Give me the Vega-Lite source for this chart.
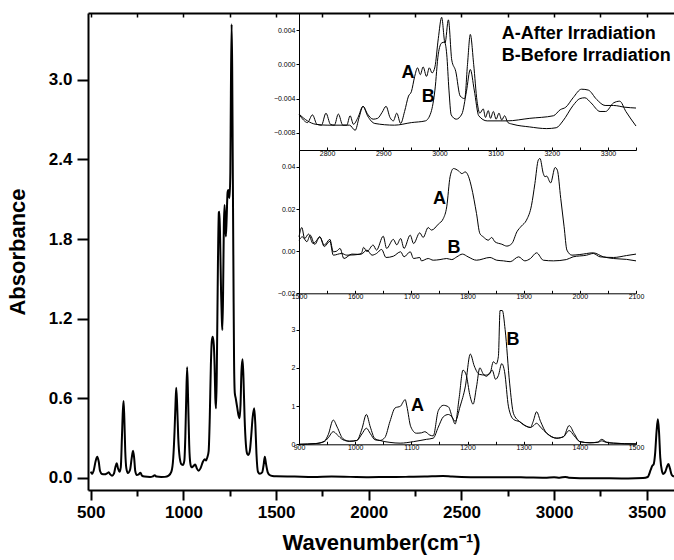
{
"$schema":"https://vega.github.io/schema/vega-lite/v6.json",
"width":586,"height":477,
"autosize":{"type":"none"},
"padding":{"left":88,"top":13,"right":0,"bottom":70},
"background":"white",
"config":{"view":{"stroke":null},"font":"Liberation Sans","axis":{"grid":false,"domainColor":"black","tickColor":"black","labelColor":"black","titleColor":"black","labelFlush":false,"labelOverlap":false}},
"datasets":{
"main":[
{"wn":500,"a":0.045},{"wn":507,"a":0.028},{"wn":515,"a":0.05},{"wn":527,"a":0.13},{"wn":535,"a":0.158},{"wn":543,"a":0.12},{"wn":550,"a":0.05},{"wn":560,"a":0.028},{"wn":575,"a":0.025},{"wn":590,"a":0.035},{"wn":597,"a":0.04},{"wn":605,"a":0.025},{"wn":615,"a":0.015},{"wn":625,"a":0.03},{"wn":633,"a":0.08},{"wn":640,"a":0.108},{"wn":647,"a":0.07},{"wn":655,"a":0.045},{"wn":662,"a":0.08},{"wn":668,"a":0.3},{"wn":673,"a":0.5},{"wn":677,"a":0.578},{"wn":681,"a":0.45},{"wn":686,"a":0.2},{"wn":692,"a":0.07},{"wn":700,"a":0.035},{"wn":712,"a":0.06},{"wn":720,"a":0.14},{"wn":728,"a":0.204},{"wn":734,"a":0.15},{"wn":740,"a":0.05},{"wn":748,"a":0.02},{"wn":758,"a":0.025},{"wn":768,"a":0.038},{"wn":776,"a":0.015},{"wn":790,"a":0.008},{"wn":820,"a":0.005},{"wn":835,"a":0.01},{"wn":845,"a":0.018},{"wn":855,"a":0.008},{"wn":880,"a":0.005},{"wn":900,"a":0.006},{"wn":920,"a":0.015},{"wn":935,"a":0.045},{"wn":945,"a":0.15},{"wn":952,"a":0.35},{"wn":957,"a":0.55},{"wn":961,"a":0.679},{"wn":966,"a":0.55},{"wn":972,"a":0.3},{"wn":980,"a":0.15},{"wn":990,"a":0.1},{"wn":998,"a":0.096},{"wn":1005,"a":0.13},{"wn":1010,"a":0.3},{"wn":1015,"a":0.6},{"wn":1020,"a":0.833},{"wn":1025,"a":0.6},{"wn":1031,"a":0.25},{"wn":1038,"a":0.1},{"wn":1044,"a":0.078},{"wn":1052,"a":0.085},{"wn":1064,"a":0.1},{"wn":1072,"a":0.07},{"wn":1082,"a":0.053},{"wn":1092,"a":0.07},{"wn":1105,"a":0.12},{"wn":1115,"a":0.139},{"wn":1122,"a":0.13},{"wn":1129,"a":0.154},{"wn":1136,"a":0.2},{"wn":1142,"a":0.45},{"wn":1148,"a":0.85},{"wn":1153,"a":1.03},{"wn":1158,"a":1.063},{"wn":1164,"a":1.0},{"wn":1168,"a":0.85},{"wn":1172,"a":0.6},{"wn":1176,"a":0.523},{"wn":1180,"a":0.8},{"wn":1186,"a":1.6},{"wn":1191,"a":2.0},{"wn":1194,"a":2.006},{"wn":1198,"a":1.8},{"wn":1203,"a":1.4},{"wn":1207,"a":1.2},{"wn":1210,"a":1.114},{"wn":1214,"a":1.4},{"wn":1218,"a":1.9},{"wn":1222,"a":2.057},{"wn":1226,"a":1.9},{"wn":1229,"a":1.82},{"wn":1233,"a":1.95},{"wn":1238,"a":2.15},{"wn":1242,"a":2.17},{"wn":1246,"a":2.12},{"wn":1249,"a":2.11},{"wn":1253,"a":2.3},{"wn":1256,"a":2.9},{"wn":1260,"a":3.42},{"wn":1263,"a":3.1},{"wn":1266,"a":2.4},{"wn":1270,"a":1.5},{"wn":1273,"a":0.9},{"wn":1277,"a":0.64},{"wn":1282,"a":0.6},{"wn":1290,"a":0.53},{"wn":1297,"a":0.47},{"wn":1303,"a":0.448},{"wn":1308,"a":0.55},{"wn":1313,"a":0.8},{"wn":1319,"a":0.893},{"wn":1324,"a":0.75},{"wn":1330,"a":0.45},{"wn":1337,"a":0.25},{"wn":1344,"a":0.18},{"wn":1350,"a":0.171},{"wn":1358,"a":0.2},{"wn":1366,"a":0.32},{"wn":1373,"a":0.45},{"wn":1382,"a":0.523},{"wn":1388,"a":0.4},{"wn":1394,"a":0.18},{"wn":1402,"a":0.045},{"wn":1412,"a":0.03},{"wn":1425,"a":0.04},{"wn":1432,"a":0.09},{"wn":1439,"a":0.158},{"wn":1446,"a":0.1},{"wn":1455,"a":0.04},{"wn":1465,"a":0.02},{"wn":1480,"a":0.012},{"wn":1500,"a":0.01},{"wn":1600,"a":0.008},{"wn":1700,"a":0.005},{"wn":1800,"a":0.008},{"wn":1900,"a":0.006},{"wn":2000,"a":0.004},{"wn":2100,"a":0.005},{"wn":2200,"a":0.006},{"wn":2300,"a":0.008},{"wn":2400,"a":0.013},{"wn":2450,"a":0.008},{"wn":2550,"a":0.004},{"wn":2700,"a":0.004},{"wn":2850,"a":0.002},{"wn":2950,"a":0.0},{"wn":3000,"a":0.004},{"wn":3030,"a":0.0},{"wn":3060,"a":0.006},{"wn":3080,"a":0.0},{"wn":3200,"a":-0.005},{"wn":3300,"a":-0.005},{"wn":3400,"a":-0.006},{"wn":3480,"a":-0.003},{"wn":3505,"a":0.005},{"wn":3521,"a":0.058},{"wn":3530,"a":0.09},{"wn":3537,"a":0.1},{"wn":3545,"a":0.18},{"wn":3553,"a":0.35},{"wn":3560,"a":0.44},{"wn":3566,"a":0.35},{"wn":3573,"a":0.15},{"wn":3582,"a":0.05},{"wn":3589,"a":0.028},{"wn":3600,"a":0.045},{"wn":3610,"a":0.085},{"wn":3617,"a":0.103},{"wn":3625,"a":0.07},{"wn":3635,"a":0.02},{"wn":3647,"a":0.008}
],
"top":[
{"s":"A","wn":2750,"v":-0.0058},{"s":"A","wn":2758,"v":-0.0065},{"s":"A","wn":2765,"v":-0.0068},{"s":"A","wn":2774,"v":-0.0059},{"s":"A","wn":2782,"v":-0.007},{"s":"A","wn":2790,"v":-0.0071},{"s":"A","wn":2798,"v":-0.0057},{"s":"A","wn":2806,"v":-0.007},{"s":"A","wn":2813,"v":-0.0071},{"s":"A","wn":2820,"v":-0.0058},{"s":"A","wn":2828,"v":-0.0071},{"s":"A","wn":2835,"v":-0.0071},{"s":"A","wn":2841,"v":-0.006},{"s":"A","wn":2847,"v":-0.007},{"s":"A","wn":2855,"v":-0.0062},{"s":"A","wn":2864,"v":-0.0049},{"s":"A","wn":2872,"v":-0.0058},{"s":"A","wn":2882,"v":-0.0064},{"s":"A","wn":2890,"v":-0.0063},{"s":"A","wn":2898,"v":-0.0056},{"s":"A","wn":2905,"v":-0.0049},{"s":"A","wn":2912,"v":-0.0062},{"s":"A","wn":2918,"v":-0.0066},{"s":"A","wn":2924,"v":-0.0057},{"s":"A","wn":2931,"v":-0.0069},{"s":"A","wn":2938,"v":-0.0055},{"s":"A","wn":2945,"v":-0.0037},{"s":"A","wn":2950,"v":-0.0032},{"s":"A","wn":2956,"v":-0.0014},{"s":"A","wn":2961,"v":-0.0004},{"s":"A","wn":2966,"v":-0.0012},{"s":"A","wn":2971,"v":-0.0003},{"s":"A","wn":2977,"v":-0.0014},{"s":"A","wn":2982,"v":-0.0004},{"s":"A","wn":2987,"v":-0.001},{"s":"A","wn":2992,"v":-0.0003},{"s":"A","wn":2998,"v":0.003},{"s":"A","wn":3004,"v":0.0055},{"s":"A","wn":3010,"v":0.0025},{"s":"A","wn":3016,"v":0.0052},{"s":"A","wn":3022,"v":0.0005},{"s":"A","wn":3029,"v":-0.0008},{"s":"A","wn":3037,"v":-0.0037},{"s":"A","wn":3045,"v":-0.004},{"s":"A","wn":3050,"v":0.0},{"s":"A","wn":3055,"v":0.0035},{"s":"A","wn":3061,"v":0.0},{"s":"A","wn":3067,"v":-0.0043},{"s":"A","wn":3072,"v":-0.0057},{"s":"A","wn":3078,"v":-0.0052},{"s":"A","wn":3082,"v":-0.0062},{"s":"A","wn":3087,"v":-0.0054},{"s":"A","wn":3091,"v":-0.0063},{"s":"A","wn":3096,"v":-0.0055},{"s":"A","wn":3101,"v":-0.0064},{"s":"A","wn":3106,"v":-0.0057},{"s":"A","wn":3111,"v":-0.0065},{"s":"A","wn":3116,"v":-0.006},{"s":"A","wn":3122,"v":-0.0068},{"s":"A","wn":3131,"v":-0.007},{"s":"A","wn":3160,"v":-0.0073},{"s":"A","wn":3191,"v":-0.0075},{"s":"A","wn":3208,"v":-0.0074},{"s":"A","wn":3220,"v":-0.0066},{"s":"A","wn":3238,"v":-0.0048},{"s":"A","wn":3250,"v":-0.004},{"s":"A","wn":3259,"v":-0.0039},{"s":"A","wn":3270,"v":-0.0045},{"s":"A","wn":3286,"v":-0.0055},{"s":"A","wn":3296,"v":-0.0055},{"s":"A","wn":3310,"v":-0.0045},{"s":"A","wn":3321,"v":-0.0043},{"s":"A","wn":3332,"v":-0.0055},{"s":"A","wn":3350,"v":-0.0072},
{"s":"B","wn":2750,"v":-0.0058},{"s":"B","wn":2765,"v":-0.0066},{"s":"B","wn":2780,"v":-0.007},{"s":"B","wn":2800,"v":-0.0071},{"s":"B","wn":2840,"v":-0.0071},{"s":"B","wn":2850,"v":-0.0077},{"s":"B","wn":2857,"v":-0.0062},{"s":"B","wn":2864,"v":-0.0049},{"s":"B","wn":2872,"v":-0.006},{"s":"B","wn":2885,"v":-0.0069},{"s":"B","wn":2920,"v":-0.0071},{"s":"B","wn":2950,"v":-0.0068},{"s":"B","wn":2975,"v":-0.0066},{"s":"B","wn":2985,"v":-0.0056},{"s":"B","wn":2992,"v":-0.003},{"s":"B","wn":2998,"v":0.0012},{"s":"B","wn":3004,"v":0.0025},{"s":"B","wn":3009,"v":0.0026},{"s":"B","wn":3013,"v":0.0012},{"s":"B","wn":3017,"v":-0.003},{"s":"B","wn":3021,"v":-0.0059},{"s":"B","wn":3030,"v":-0.0064},{"s":"B","wn":3040,"v":-0.0058},{"s":"B","wn":3048,"v":-0.0032},{"s":"B","wn":3055,"v":-0.0006},{"s":"B","wn":3062,"v":-0.003},{"s":"B","wn":3070,"v":-0.006},{"s":"B","wn":3085,"v":-0.0066},{"s":"B","wn":3120,"v":-0.0066},{"s":"B","wn":3161,"v":-0.0063},{"s":"B","wn":3203,"v":-0.006},{"s":"B","wn":3215,"v":-0.0053},{"s":"B","wn":3225,"v":-0.005},{"s":"B","wn":3238,"v":-0.0039},{"s":"B","wn":3253,"v":-0.0029},{"s":"B","wn":3265,"v":-0.003},{"s":"B","wn":3280,"v":-0.0041},{"s":"B","wn":3295,"v":-0.0048},{"s":"B","wn":3310,"v":-0.0048},{"s":"B","wn":3330,"v":-0.005},{"s":"B","wn":3350,"v":-0.0051}
],
"mid":[
{"s":"A","wn":1500,"v":0.0068},{"s":"A","wn":1505,"v":0.0112},{"s":"A","wn":1510,"v":0.006},{"s":"A","wn":1517,"v":0.0081},{"s":"A","wn":1525,"v":0.0036},{"s":"A","wn":1531,"v":0.005},{"s":"A","wn":1537,"v":0.0068},{"s":"A","wn":1545,"v":0.0029},{"s":"A","wn":1555,"v":0.0056},{"s":"A","wn":1561,"v":-0.0003},{"s":"A","wn":1567,"v":0.0},{"s":"A","wn":1573,"v":0.0013},{"s":"A","wn":1580,"v":-0.0035},{"s":"A","wn":1594,"v":-0.0014},{"s":"A","wn":1605,"v":-0.0015},{"s":"A","wn":1611,"v":-0.0011},{"s":"A","wn":1615,"v":0.0018},{"s":"A","wn":1621,"v":-0.0002},{"s":"A","wn":1632,"v":0.0029},{"s":"A","wn":1638,"v":0.0005},{"s":"A","wn":1650,"v":0.0071},{"s":"A","wn":1656,"v":0.0013},{"s":"A","wn":1668,"v":0.0056},{"s":"A","wn":1674,"v":0.003},{"s":"A","wn":1681,"v":0.006},{"s":"A","wn":1687,"v":0.0013},{"s":"A","wn":1698,"v":0.0076},{"s":"A","wn":1704,"v":0.0036},{"s":"A","wn":1715,"v":0.0087},{"s":"A","wn":1721,"v":0.0065},{"s":"A","wn":1730,"v":0.0112},{"s":"A","wn":1736,"v":0.01},{"s":"A","wn":1748,"v":0.0128},{"s":"A","wn":1757,"v":0.0155},{"s":"A","wn":1763,"v":0.021},{"s":"A","wn":1769,"v":0.0353},{"s":"A","wn":1775,"v":0.0392},{"s":"A","wn":1784,"v":0.0381},{"s":"A","wn":1790,"v":0.0368},{"s":"A","wn":1796,"v":0.0376},{"s":"A","wn":1802,"v":0.0353},{"s":"A","wn":1807,"v":0.0305},{"s":"A","wn":1816,"v":0.0179},{"s":"A","wn":1822,"v":0.0084},{"s":"A","wn":1828,"v":0.0068},{"s":"A","wn":1837,"v":0.0052},{"s":"A","wn":1843,"v":0.0065},{"s":"A","wn":1849,"v":0.0044},{"s":"A","wn":1861,"v":0.0033},{"s":"A","wn":1870,"v":0.0024},{"s":"A","wn":1879,"v":0.0036},{"s":"A","wn":1888,"v":0.0092},{"s":"A","wn":1896,"v":0.0119},{"s":"A","wn":1905,"v":0.0147},{"s":"A","wn":1914,"v":0.0218},{"s":"A","wn":1920,"v":0.0321},{"s":"A","wn":1926,"v":0.0432},{"s":"A","wn":1929,"v":0.044},{"s":"A","wn":1935,"v":0.0368},{"s":"A","wn":1938,"v":0.0353},{"s":"A","wn":1941,"v":0.0356},{"s":"A","wn":1948,"v":0.0324},{"s":"A","wn":1956,"v":0.0397},{"s":"A","wn":1960,"v":0.0384},{"s":"A","wn":1966,"v":0.025},{"s":"A","wn":1972,"v":0.0116},{"s":"A","wn":1977,"v":0.0005},{"s":"A","wn":1986,"v":-0.0019},{"s":"A","wn":2000,"v":-0.0016},{"s":"A","wn":2024,"v":-0.0008},{"s":"A","wn":2042,"v":-0.0027},{"s":"A","wn":2060,"v":-0.0035},{"s":"A","wn":2083,"v":-0.0039},{"s":"A","wn":2100,"v":-0.0046},
{"s":"B","wn":1500,"v":0.0052},{"s":"B","wn":1506,"v":0.0068},{"s":"B","wn":1514,"v":0.0045},{"s":"B","wn":1520,"v":0.0076},{"s":"B","wn":1528,"v":0.0032},{"s":"B","wn":1537,"v":0.0068},{"s":"B","wn":1545,"v":0.0022},{"s":"B","wn":1555,"v":0.0047},{"s":"B","wn":1561,"v":-0.0019},{"s":"B","wn":1576,"v":-0.0011},{"s":"B","wn":1585,"v":-0.0019},{"s":"B","wn":1611,"v":-0.0014},{"s":"B","wn":1621,"v":0.0005},{"s":"B","wn":1630,"v":-0.0019},{"s":"B","wn":1638,"v":-0.0011},{"s":"B","wn":1647,"v":0.0008},{"s":"B","wn":1655,"v":-0.003},{"s":"B","wn":1668,"v":-0.0024},{"s":"B","wn":1681,"v":-0.0003},{"s":"B","wn":1687,"v":-0.0027},{"s":"B","wn":1698,"v":-0.0003},{"s":"B","wn":1704,"v":-0.0035},{"s":"B","wn":1715,"v":-0.003},{"s":"B","wn":1718,"v":-0.0046},{"s":"B","wn":1730,"v":-0.0035},{"s":"B","wn":1739,"v":-0.0043},{"s":"B","wn":1751,"v":-0.004},{"s":"B","wn":1763,"v":-0.0035},{"s":"B","wn":1772,"v":-0.004},{"s":"B","wn":1781,"v":-0.0027},{"s":"B","wn":1791,"v":-0.0014},{"s":"B","wn":1801,"v":-0.0027},{"s":"B","wn":1816,"v":-0.0043},{"s":"B","wn":1840,"v":-0.003},{"s":"B","wn":1852,"v":-0.0043},{"s":"B","wn":1864,"v":-0.0046},{"s":"B","wn":1876,"v":-0.005},{"s":"B","wn":1891,"v":-0.0027},{"s":"B","wn":1902,"v":-0.0046},{"s":"B","wn":1912,"v":-0.0035},{"s":"B","wn":1923,"v":-0.0008},{"s":"B","wn":1935,"v":-0.0043},{"s":"B","wn":1953,"v":-0.0046},{"s":"B","wn":1976,"v":-0.004},{"s":"B","wn":1988,"v":-0.0027},{"s":"B","wn":2012,"v":-0.0019},{"s":"B","wn":2024,"v":-0.0011},{"s":"B","wn":2036,"v":-0.0027},{"s":"B","wn":2060,"v":-0.003},{"s":"B","wn":2083,"v":-0.0021},{"s":"B","wn":2100,"v":-0.0014}
],
"bot":[
{"s":"B","wn":900,"v":0.0},{"s":"B","wn":930,"v":0.02},{"s":"B","wn":945,"v":0.08},{"s":"B","wn":952,"v":0.25},{"s":"B","wn":961,"v":0.635},{"s":"B","wn":968,"v":0.45},{"s":"B","wn":978,"v":0.15},{"s":"B","wn":990,"v":0.08},{"s":"B","wn":1003,"v":0.1},{"s":"B","wn":1012,"v":0.4},{"s":"B","wn":1020,"v":0.78},{"s":"B","wn":1027,"v":0.45},{"s":"B","wn":1035,"v":0.15},{"s":"B","wn":1044,"v":0.1},{"s":"B","wn":1062,"v":0.05},{"s":"B","wn":1080,"v":0.03},{"s":"B","wn":1104,"v":0.07},{"s":"B","wn":1127,"v":0.13},{"s":"B","wn":1139,"v":0.16},{"s":"B","wn":1148,"v":0.45},{"s":"B","wn":1157,"v":0.72},{"s":"B","wn":1166,"v":0.78},{"s":"B","wn":1172,"v":0.72},{"s":"B","wn":1178,"v":0.6},{"s":"B","wn":1187,"v":1.0},{"s":"B","wn":1196,"v":1.5},{"s":"B","wn":1205,"v":2.36},{"s":"B","wn":1212,"v":2.05},{"s":"B","wn":1221,"v":1.83},{"s":"B","wn":1232,"v":1.81},{"s":"B","wn":1240,"v":1.85},{"s":"B","wn":1246,"v":2.16},{"s":"B","wn":1251,"v":2.1},{"s":"B","wn":1255,"v":2.3},{"s":"B","wn":1258,"v":3.5},{"s":"B","wn":1262,"v":3.5},{"s":"B","wn":1267,"v":3.0},{"s":"B","wn":1275,"v":1.6},{"s":"B","wn":1282,"v":0.8},{"s":"B","wn":1293,"v":0.59},{"s":"B","wn":1305,"v":0.47},{"s":"B","wn":1312,"v":0.44},{"s":"B","wn":1317,"v":0.6},{"s":"B","wn":1323,"v":0.85},{"s":"B","wn":1330,"v":0.6},{"s":"B","wn":1341,"v":0.29},{"s":"B","wn":1359,"v":0.16},{"s":"B","wn":1371,"v":0.2},{"s":"B","wn":1381,"v":0.49},{"s":"B","wn":1390,"v":0.28},{"s":"B","wn":1400,"v":0.07},{"s":"B","wn":1418,"v":0.04},{"s":"B","wn":1432,"v":0.06},{"s":"B","wn":1439,"v":0.13},{"s":"B","wn":1447,"v":0.06},{"s":"B","wn":1460,"v":0.03},{"s":"B","wn":1500,"v":0.01},
{"s":"A","wn":900,"v":0.0},{"s":"A","wn":930,"v":0.02},{"s":"A","wn":945,"v":0.07},{"s":"A","wn":952,"v":0.17},{"s":"A","wn":961,"v":0.33},{"s":"A","wn":968,"v":0.25},{"s":"A","wn":978,"v":0.12},{"s":"A","wn":990,"v":0.08},{"s":"A","wn":1003,"v":0.1},{"s":"A","wn":1012,"v":0.27},{"s":"A","wn":1020,"v":0.42},{"s":"A","wn":1027,"v":0.28},{"s":"A","wn":1035,"v":0.12},{"s":"A","wn":1044,"v":0.1},{"s":"A","wn":1053,"v":0.18},{"s":"A","wn":1062,"v":0.6},{"s":"A","wn":1071,"v":0.95},{"s":"A","wn":1081,"v":1.0},{"s":"A","wn":1085,"v":1.1},{"s":"A","wn":1089,"v":1.17},{"s":"A","wn":1092,"v":1.0},{"s":"A","wn":1099,"v":0.46},{"s":"A","wn":1109,"v":0.29},{"s":"A","wn":1118,"v":0.3},{"s":"A","wn":1124,"v":0.33},{"s":"A","wn":1133,"v":0.24},{"s":"A","wn":1139,"v":0.22},{"s":"A","wn":1148,"v":0.88},{"s":"A","wn":1157,"v":1.02},{"s":"A","wn":1166,"v":0.98},{"s":"A","wn":1173,"v":0.7},{"s":"A","wn":1178,"v":0.53},{"s":"A","wn":1185,"v":1.2},{"s":"A","wn":1192,"v":1.94},{"s":"A","wn":1198,"v":1.8},{"s":"A","wn":1204,"v":1.3},{"s":"A","wn":1210,"v":1.05},{"s":"A","wn":1216,"v":1.5},{"s":"A","wn":1222,"v":2.0},{"s":"A","wn":1228,"v":1.84},{"s":"A","wn":1234,"v":1.78},{"s":"A","wn":1240,"v":1.88},{"s":"A","wn":1244,"v":1.94},{"s":"A","wn":1250,"v":1.7},{"s":"A","wn":1255,"v":1.8},{"s":"A","wn":1261,"v":2.11},{"s":"A","wn":1266,"v":1.9},{"s":"A","wn":1273,"v":0.98},{"s":"A","wn":1282,"v":0.65},{"s":"A","wn":1293,"v":0.59},{"s":"A","wn":1305,"v":0.47},{"s":"A","wn":1312,"v":0.44},{"s":"A","wn":1317,"v":0.48},{"s":"A","wn":1323,"v":0.55},{"s":"A","wn":1330,"v":0.45},{"s":"A","wn":1341,"v":0.29},{"s":"A","wn":1359,"v":0.16},{"s":"A","wn":1371,"v":0.2},{"s":"A","wn":1381,"v":0.36},{"s":"A","wn":1390,"v":0.22},{"s":"A","wn":1400,"v":0.07},{"s":"A","wn":1418,"v":0.04},{"s":"A","wn":1432,"v":0.05},{"s":"A","wn":1439,"v":0.09},{"s":"A","wn":1447,"v":0.05},{"s":"A","wn":1460,"v":0.03},{"s":"A","wn":1500,"v":0.01}
],
"topText":[{"wn":2944,"v":-0.00104,"t":"A"},{"wn":2980,"v":-0.00378,"t":"B"}],
"legend":[{"wn":3111,"v":0.00349,"t":"A-After Irradiation"},{"wn":3111,"v":0.00094,"t":"B-Before Irradiation"}],
"midText":[{"wn":1750,"v":0.0246,"t":"A"},{"wn":1776,"v":0.00135,"t":"B"}],
"botText":[{"wn":1111,"v":1.0,"t":"A"},{"wn":1281,"v":2.73,"t":"B"}]
},
"layer":[
{"data":{"name":"main"},"mark":{"type":"line","color":"black","strokeWidth":2,"interpolate":"monotone"},
 "encoding":{
  "x":{"field":"wn","type":"quantitative","scale":{"domain":[485,3647],"nice":false,"zero":false},
   "axis":{"orient":"bottom","values":[500,1000,1500,2000,2500,3000,3500],"format":"d","title":"Wavenumber(cm⁻¹)","tickSize":10,"tickWidth":2,"domainWidth":2,"labelFontSize":17,"labelFontWeight":"bold","labelPadding":4,"titleFontSize":22,"titleFontWeight":"bold","titlePadding":12}},
  "y":{"field":"a","type":"quantitative","scale":{"domain":[-0.093,3.505],"nice":false,"zero":false},
   "axis":{"orient":"left","values":[0,0.6,1.2,1.8,2.4,3.0],"format":".1f","title":"Absorbance","tickSize":11,"tickWidth":2,"domainWidth":2,"labelFontSize":17,"labelFontWeight":"bold","labelPadding":5,"titleFontSize":22,"titleFontWeight":"bold","titlePadding":19}}
 }},
{"data":{"name":"main"},"mark":{"type":"line","strokeOpacity":0},
 "encoding":{
  "x":{"field":"wn","type":"quantitative","scale":{"domain":[485,3647],"nice":false,"zero":false},
   "axis":{"orient":"bottom","values":[750,1250,1750,2250,2750,3250],"labels":false,"domain":false,"tickSize":6,"tickWidth":2,"title":null}},
  "y":{"field":"a","type":"quantitative","scale":{"domain":[-0.093,3.505],"nice":false,"zero":false},"axis":null}
 }},
{"data":{"name":"main"},"mark":{"type":"line","strokeOpacity":0},
 "encoding":{
  "x":{"field":"wn","type":"quantitative","scale":{"domain":[485,3647],"nice":false,"zero":false},
   "axis":{"orient":"top","values":[500,750,1000,1250,1500,1750,2000,2250,2500,2750,3000,3250,3500],"labels":false,"domainWidth":2,"tickSize":-4,"tickWidth":1.5,"title":null}},
  "y":{"field":"a","type":"quantitative","scale":{"domain":[-0.093,3.505],"nice":false,"zero":false},"axis":null}
 }},
{"layer":[
 {"data":{"name":"top"},"mark":{"type":"line","color":"black","strokeWidth":1,"interpolate":"monotone"},
  "encoding":{
   "x":{"field":"wn","type":"quantitative","scale":{"domain":[2750,3350],"range":[211,548],"nice":false,"zero":false},
    "axis":{"orient":"bottom","offset":-340,"values":[2750,2800,2850,2900,2950,3000,3050,3100,3150,3200,3250,3300,3350],"labelExpr":"datum.value % 100 === 0 ? datum.label : ''","format":"d","tickSize":-3,"tickWidth":1,"domainWidth":1,"labelFontSize":7,"labelPadding":2,"title":null}},
   "y":{"field":"v","type":"quantitative","scale":{"domain":[-0.01,0.006],"range":[137,0],"nice":false,"zero":false},
    "axis":{"orient":"left","offset":-211,"values":[0.004,0,-0.004,-0.008],"format":".3f","tickSize":3,"tickWidth":1,"domainWidth":1,"labelFontSize":7,"labelPadding":1,"title":null}},
   "detail":{"field":"s"}
  }},
 {"data":{"name":"topText"},"mark":{"type":"text","fontSize":18,"fontWeight":"bold","align":"center","baseline":"middle"},
  "encoding":{"x":{"field":"wn","type":"quantitative"},"y":{"field":"v","type":"quantitative"},"text":{"field":"t"}}},
 {"data":{"name":"legend"},"mark":{"type":"text","fontSize":18,"fontWeight":"bold","align":"left","baseline":"middle"},
  "encoding":{"x":{"field":"wn","type":"quantitative"},"y":{"field":"v","type":"quantitative"},"text":{"field":"t"}}}
]},
{"layer":[
 {"data":{"name":"mid"},"mark":{"type":"line","color":"black","strokeWidth":1,"interpolate":"monotone"},
  "encoding":{
   "x":{"field":"wn","type":"quantitative","scale":{"domain":[1500,2100],"range":[211,548],"nice":false,"zero":false},
    "axis":{"orient":"bottom","offset":-196.7,"values":[1500,1550,1600,1650,1700,1750,1800,1850,1900,1950,2000,2050,2100],"labelExpr":"datum.value % 100 === 0 ? datum.label : ''","format":"d","tickSize":-3,"tickWidth":1,"domainWidth":1,"labelFontSize":7,"labelPadding":2,"title":null}},
   "y":{"field":"v","type":"quantitative","scale":{"domain":[-0.02,0.048],"range":[280.3,137],"nice":false,"zero":false},
    "axis":{"orient":"left","offset":-211,"values":[0.04,0.02,0,-0.02],"format":".2f","tickSize":3,"tickWidth":1,"domainWidth":1,"labelFontSize":7,"labelPadding":1,"title":null}},
   "detail":{"field":"s"}
  }},
 {"data":{"name":"midText"},"mark":{"type":"text","fontSize":18,"fontWeight":"bold","align":"center","baseline":"middle"},
  "encoding":{"x":{"field":"wn","type":"quantitative"},"y":{"field":"v","type":"quantitative"},"text":{"field":"t"}}}
]},
{"layer":[
 {"data":{"name":"bot"},"mark":{"type":"line","color":"black","strokeWidth":1,"interpolate":"monotone"},
  "encoding":{
   "x":{"field":"wn","type":"quantitative","scale":{"domain":[900,1500],"range":[211,548],"nice":false,"zero":false},
    "axis":{"orient":"bottom","offset":-45.7,"values":[900,950,1000,1050,1100,1150,1200,1250,1300,1350,1400,1450,1500],"labelExpr":"datum.value % 100 === 0 ? datum.label : ''","format":"d","tickSize":-3,"tickWidth":1,"domainWidth":1,"labelFontSize":7,"labelPadding":2,"title":null}},
   "y":{"field":"v","type":"quantitative","scale":{"domain":[0,3.95],"range":[431.3,280.3],"nice":false,"zero":false},
    "axis":{"orient":"left","offset":-211,"values":[0,1,2,3],"format":"d","tickSize":3,"tickWidth":1,"domainWidth":1,"labelFontSize":7,"labelPadding":1,"title":null}},
   "detail":{"field":"s"}
  }},
 {"data":{"name":"botText"},"mark":{"type":"text","fontSize":18,"fontWeight":"bold","align":"center","baseline":"middle"},
  "encoding":{"x":{"field":"wn","type":"quantitative"},"y":{"field":"v","type":"quantitative"},"text":{"field":"t"}}}
]}
],
"resolve":{"scale":{"x":"independent","y":"independent"},"axis":{"x":"independent","y":"independent"}}
}
